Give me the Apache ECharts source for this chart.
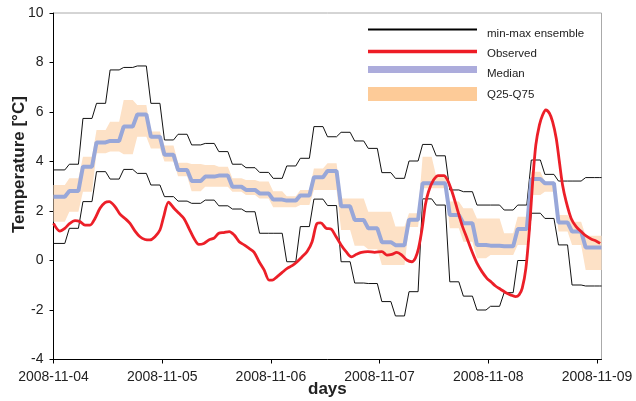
<!DOCTYPE html>
<html>
<head>
<meta charset="utf-8">
<script src="https://cdn.jsdelivr.net/npm/echarts@6/dist/echarts.min.js"></script>
<style>
html, body { margin: 0; padding: 0; background: #fff; }
#main { width: 636px; height: 401px; }
</style>
</head>
<body>
<div id="main"></div>
<script>
// hourly x axis, 0 = 2008-11-04 00:00
var dayTicks = [0, 24, 48, 72, 96, 120];
var dayLabels = ['2008-11-04', '2008-11-05', '2008-11-06', '2008-11-07', '2008-11-08', '2008-11-09'];

// ensemble stats, one value per 3-hour block (block k starts at hour 3k)
var ensMax = [3.66, 3.89, 5.74, 6.35, 7.70, 7.80, 7.86, 6.35, 4.87, 5.10, 4.67, 4.73, 4.40, 3.89, 3.75, 3.56,
  3.32, 3.82, 4.13, 5.41, 5.00, 5.18, 4.83, 4.53, 3.55, 3.32, 4.02, 4.69, 4.23, 2.85, 2.78, 2.24,
  2.24, 2.04, 2.24, 4.06, 3.48, 3.21, 3.21, 3.35, 3.35];
var ensMin = [0.69, 1.30, 2.38, 3.59, 3.29, 3.68, 3.52, 3.05, 2.58, 2.40, 2.31, 2.44, 2.21, 2.08, 1.97, 1.10,
  1.10, -0.05, 1.37, 2.48, 2.22, -0.05, -0.91, -0.93, -1.66, -2.24, -1.26, 2.49, 2.24, -0.86, -1.44, -2.00,
  -1.85, -1.30, 0.00, 1.91, 1.70, 0.63, -0.99, -1.03, -1.03];
var median = [2.58, 2.81, 3.79, 4.77, 4.83, 5.41, 5.90, 5.00, 4.27, 3.66, 3.21, 3.39, 3.43, 2.98, 2.85, 2.71,
  2.46, 2.42, 2.63, 3.36, 3.62, 2.19, 1.64, 1.30, 0.74, 0.62, 1.65, 3.12, 3.12, 1.84, 1.51, 0.63,
  0.60, 0.58, 1.27, 3.29, 3.12, 1.54, 1.17, 0.53, 0.53];
var q75 = [3.05, 3.32, 4.19, 5.27, 5.61, 6.48, 6.28, 5.21, 4.65, 3.95, 3.90, 3.86, 3.79, 3.32, 3.25, 3.19,
  2.80, 2.60, 2.85, 3.72, 3.93, 2.51, 2.51, 1.97, 1.97, 1.37, 1.91, 4.19, 3.40, 2.38, 2.11, 1.70,
  1.70, 1.10, 1.77, 3.59, 3.18, 1.84, 1.57, 1.00, 1.00];
var q25 = [1.57, 1.97, 2.78, 4.33, 4.40, 4.29, 5.00, 4.53, 4.00, 3.40, 2.80, 2.98, 2.98, 2.78, 2.65, 2.51,
  2.15, 2.15, 2.24, 2.85, 2.85, 1.23, 0.60, 0.45, -0.18, -0.18, 1.35, 2.92, 2.92, 1.30, 0.76, 0.09,
  0.22, 0.22, 0.63, 2.65, 2.78, 1.17, 0.63, -0.38, -0.38];

// observed temperature
var obsHours = [0, 1.4, 2.5, 3.6, 4.75, 5.85, 6.95, 8.06, 9.16, 10.27, 11.37, 12.3, 13.58, 14.68, 15.79, 16.89,
  18.0, 19.1, 20.2, 21.3, 22.4, 23.5, 24.3, 25.4, 26.6, 27.7, 28.8, 29.9, 31.0, 32.1, 33.2, 34.3,
  35.4, 36.5, 37.6, 38.8, 39.9, 41.0, 42.1, 43.2, 44.3, 45.4, 46.5, 47.6, 48.3, 49.4, 50.5, 51.6,
  52.7, 53.8, 54.9, 56.0, 57.1, 58.2, 59.0, 60.2, 61.3, 62.4, 63.5, 64.6, 65.8, 66.9, 68.0, 69.4,
  70.9, 72.5, 73.6, 74.7, 75.8, 76.9, 78.0, 79.1, 79.9, 80.6, 81.4, 82.1, 82.8, 83.9, 85.0, 86.2,
  87.0, 88.0, 89.1, 90.2, 91.3, 92.4, 93.5, 94.6, 95.7, 96.7, 97.6, 98.7, 99.8, 100.9, 102.0, 102.8,
  103.5, 104.3, 105.1, 105.8, 106.5, 107.3, 108.0, 108.7, 109.5, 110.2, 111.0, 111.7, 112.4, 113.2, 114.3, 115.4,
  116.5, 117.6, 118.7, 119.8, 120.7];
var obsTemp = [1.50, 1.19, 1.30, 1.50, 1.61, 1.57, 1.43, 1.43, 1.70, 2.11, 2.34, 2.38, 2.18, 1.87, 1.70, 1.50,
  1.19, 0.96, 0.85, 0.83, 0.96, 1.23, 1.75, 2.36, 2.11, 1.91, 1.70, 1.30, 0.90, 0.65, 0.69, 0.83,
  0.90, 1.10, 1.13, 1.17, 1.03, 0.76, 0.63, 0.49, 0.33, -0.05, -0.38, -0.79, -0.79, -0.65, -0.48, -0.32,
  -0.21, -0.05, 0.15, 0.36, 0.76, 1.50, 1.52, 1.30, 1.27, 0.96, 0.63, 0.36, 0.15, 0.25, 0.33, 0.36,
  0.33, 0.36, 0.22, 0.25, 0.33, 0.22, 0.02, -0.05, 0.10, 0.49, 1.30, 2.24, 2.78, 3.25, 3.43, 3.43,
  3.25, 2.78, 2.11, 1.43, 0.90, 0.36, -0.11, -0.45, -0.72, -0.88, -1.03, -1.16, -1.29, -1.39, -1.46, -1.39,
  -1.12, -0.32, 1.30, 3.19, 4.67, 5.48, 5.88, 6.08, 5.95, 5.61, 4.94, 3.99, 3.05, 2.38, 1.70, 1.37,
  1.17, 0.99, 0.87, 0.79, 0.69];

var myChart = echarts.init(document.getElementById('main'), null, {renderer: 'canvas'});

// hold each 3-hour value flat, with a one hour ramp to the next block
function stepPoints(vals) {
  var pts = [];
  var last = vals.length - 1;
  vals.forEach(function (v, k) {
    pts.push([k === 0 ? 0 : 3 * k + 0.5, v]);
    pts.push([k === last ? 121 : 3 * k + 2.5, v]);
  });
  return pts;
}

var loPts = stepPoints(q25);
var hiPts = stepPoints(q75);
var bandData = loPts.map(function (p, i) { return [p[0], p[1], hiPts[i][1]]; });
var obsData = obsHours.map(function (h, i) { return [h, obsTemp[i]]; });

// the Q25-Q75 band as one polygon
function renderBand(params, api) {
  if (params.dataIndex !== 0) return;
  var pts = [];
  bandData.forEach(function (d) { pts.push(api.coord([d[0], d[2]])); });
  for (var i = bandData.length - 1; i >= 0; i--) {
    pts.push(api.coord([bandData[i][0], bandData[i][1]]));
  }
  return {
    type: 'polygon',
    shape: {points: pts},
    style: {fill: '#fde1c6', stroke: null}
  };
}

var font = 'Liberation Sans, Arial, sans-serif';

var option = {
  animation: false,
  grid: {
    left: 53.5, right: 34.5, top: 13, bottom: 41.5,
    show: true, borderColor: '#aaa', borderWidth: 1,
    outerBoundsMode: 'none'
  },
  xAxis: {
    type: 'value', min: 0, max: 121, interval: 24,
    axisLine: {onZero: false, lineStyle: {color: '#000', width: 1}},
    axisTick: {length: 4, customValues: dayTicks, lineStyle: {color: '#000'}},
    axisLabel: {
      customValues: dayTicks, margin: 11, fontSize: 14, color: '#222', fontFamily: font,
      formatter: function (v) { return dayLabels[Math.round(v / 24)]; }
    },
    splitLine: {show: false}
  },
  yAxis: {
    type: 'value', min: -4, max: 10, interval: 2,
    axisLine: {show: true, onZero: false, lineStyle: {color: '#000', width: 1}},
    axisTick: {show: true, length: 4, lineStyle: {color: '#000'}},
    axisLabel: {margin: 10, fontSize: 14, color: '#222', fontFamily: font},
    splitLine: {show: false}
  },
  graphic: [
    {type: 'text', left: 308, top: 381, style: {text: 'days', font: 'bold 17px ' + font, fill: '#222'}, z: 10},
    {type: 'text', x: 11, y: 233, rotation: Math.PI / 2, style: {text: 'Temperature [°C]', font: 'bold 17px ' + font, fill: '#222'}, z: 10},
    // legend
    {type: 'line', shape: {x1: 368, y1: 29.5, x2: 477, y2: 29.5}, style: {stroke: '#000', lineWidth: 2}, z: 10},
    {type: 'line', shape: {x1: 368, y1: 51.5, x2: 477, y2: 51.5}, style: {stroke: '#ee1c25', lineWidth: 3.5}, z: 10},
    {type: 'rect', shape: {x: 368, y: 66, width: 109, height: 7}, style: {fill: '#acacdc'}, z: 10},
    {type: 'rect', shape: {x: 368, y: 87, width: 109, height: 14}, style: {fill: '#fdcb98'}, z: 10},
    {type: 'text', x: 487, y: 33.5, style: {text: 'min-max ensemble', font: '11.5px ' + font, fill: '#222', verticalAlign: 'middle'}, z: 10},
    {type: 'text', x: 487, y: 53.5, style: {text: 'Observed', font: '11.5px ' + font, fill: '#222', verticalAlign: 'middle'}, z: 10},
    {type: 'text', x: 487, y: 73.5, style: {text: 'Median', font: '11.5px ' + font, fill: '#222', verticalAlign: 'middle'}, z: 10},
    {type: 'text', x: 487, y: 94.5, style: {text: 'Q25-Q75', font: '11.5px ' + font, fill: '#222', verticalAlign: 'middle'}, z: 10}
  ],
  series: [
    {
      name: 'Q25-Q75', type: 'custom', data: bandData,
      encode: {x: 0, y: [1, 2]}, renderItem: renderBand, z: 1, silent: true
    },
    {
      name: 'max', type: 'line', data: stepPoints(ensMax),
      symbol: 'none', lineStyle: {color: '#111', width: 1}, z: 2
    },
    {
      name: 'min', type: 'line', data: stepPoints(ensMin),
      symbol: 'none', lineStyle: {color: '#111', width: 1}, z: 2
    },
    {
      name: 'Median', type: 'line', data: stepPoints(median),
      symbol: 'none', lineStyle: {color: '#98a7d9', width: 4}, z: 3
    },
    {
      name: 'Observed', type: 'line', data: obsData, smooth: 0.3,
      symbol: 'none', lineStyle: {color: '#ec1f28', width: 2.8}, z: 4
    }
  ]
};

myChart.setOption(option);
</script>
</body>
</html>
